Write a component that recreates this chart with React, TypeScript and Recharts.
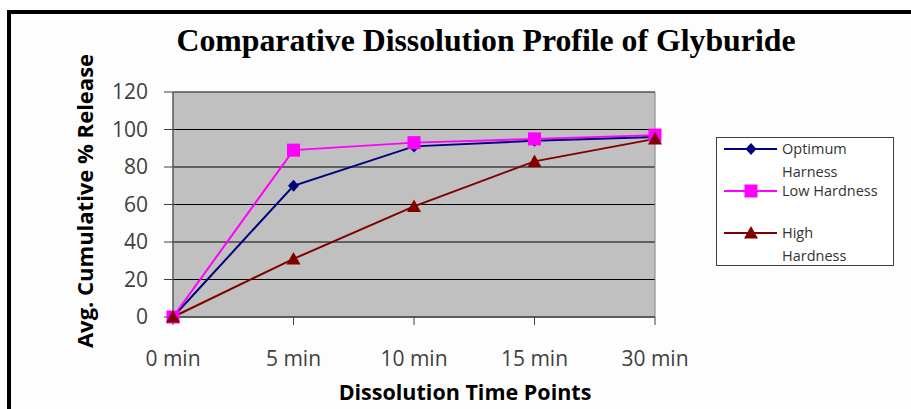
import { LineChart, Line, XAxis, YAxis, CartesianGrid, ReferenceArea } from 'recharts';

const timePoints = ['0 min', '5 min', '10 min', '15 min', '30 min'];
const optimumHarness = [0, 70, 91, 94, 96];
const lowHardness = [0, 89, 93, 95, 97];
const highHardness = [0, 31, 59, 83, 95];
const yTicks = [0, 20, 40, 60, 80, 100, 120];

const data = timePoints.map((t, i) => ({
  time: t,
  optimum: optimumHarness[i],
  low: lowHardness[i],
  high: highHardness[i],
}));

const FONT = '"Open Sans", sans-serif';

type Marker = 'diamond' | 'square' | 'triangle';

function drawMarker(kind: Marker, cx: number, cy: number, color: string, key?: string | number) {
  if (kind === 'diamond') {
    return <path key={key} d={`M${cx},${cy - 6}L${cx + 5.5},${cy}L${cx},${cy + 6}L${cx - 5.5},${cy}Z`} fill={color} />;
  }
  if (kind === 'square') {
    return <rect key={key} x={cx - 6.5} y={cy - 6.5} width={13} height={13} fill={color} />;
  }
  return <path key={key} d={`M${cx},${cy - 7}L${cx + 7},${cy + 5.5}L${cx - 7},${cy + 5.5}Z`} fill={color} />;
}

const series = [
  { key: 'optimum', label: ['Optimum', 'Harness'], color: '#000080', marker: 'diamond' as Marker },
  { key: 'low', label: ['Low Hardness'], color: '#ff00ff', marker: 'square' as Marker },
  { key: 'high', label: ['High', 'Hardness'], color: '#800000', marker: 'triangle' as Marker },
];

// legend row positions inside the box
const legendRows = [12, 54, 96];

function LegendBox() {
  return (
    <svg style={{ position: 'absolute', left: 716, top: 137 }} width={179} height={130}>
      <rect x={0.5} y={0.5} width={177} height={128} fill="#fff" stroke="#404040" />
      {series.map((s, i) => {
        const y = legendRows[i];
        return (
          <g key={s.key}>
            <line x1={8} x2={61} y1={y} y2={y} stroke={s.color} strokeWidth={2} />
            {drawMarker(s.marker, 35, y, s.color)}
            {s.label.map((l, j) => (
              <text
                key={l}
                x={66}
                y={y + j * 23}
                dy="0.35em"
                fontFamily={FONT}
                fontSize={14.5}
                fill="#333"
              >
                {l}
              </text>
            ))}
          </g>
        );
      })}
    </svg>
  );
}

export default function App() {
  return (
    <div
      style={{
        position: 'fixed',
        left: 0,
        top: 0,
        width: 911,
        height: 409,
        overflow: 'hidden',
        background: '#fff',
      }}
    >
      <div
        style={{
          position: 'absolute',
          left: 7,
          top: 10,
          width: 1000,
          height: 500,
          border: '4px solid #000',
          background: '#fdfdfd',
        }}
      />
      <LineChart
        width={911}
        height={409}
        data={data}
        margin={{ top: 92, right: 256, bottom: 52, left: 113 }}
        style={{ position: 'absolute', left: 0, top: 0 }}
      >
        <CartesianGrid vertical={false} stroke="#000" fill="#c0c0c0" fillOpacity={1} />
        <ReferenceArea x1="0 min" x2="30 min" y1={0} y2={120} fill="none" stroke="#808080" />
        <XAxis
          dataKey="time"
          height={40}
          stroke="#404040"
          tickSize={8}
          tickMargin={26}
          tick={{ fontFamily: FONT, fontSize: 21, fill: '#404040' }}
          tickLine={{ stroke: '#404040' }}
        />
        <YAxis
          width={60}
          domain={[0, 120]}
          ticks={yTicks}
          stroke="#404040"
          tickSize={9}
          tickMargin={16}
          tick={{ fontFamily: FONT, fontSize: 21, fill: '#404040' }}
        />
        {series.map((s) => (
          <Line
            key={s.key}
            dataKey={s.key}
            stroke={s.color}
            strokeWidth={2}
            isAnimationActive={false}
            dot={(p: any) => drawMarker(s.marker, p.cx, p.cy, s.color, `${s.key}-${p.index}`)}
            activeDot={false}
          />
        ))}
      </LineChart>
      <svg style={{ position: 'absolute', left: 0, top: 0 }} width={911} height={409}>
        <text
          x={486}
          y={51}
          textAnchor="middle"
          fontFamily='"Liberation Serif", serif'
          fontWeight="bold"
          fontSize={31}
          textLength={619}
          lengthAdjust="spacingAndGlyphs"
          fill="#000"
        >
          Comparative Dissolution Profile of Glyburide
        </text>
        <text
          x={465}
          y={400}
          textAnchor="middle"
          fontFamily={FONT}
          fontWeight="bold"
          fontSize={21.5}
          fill="#000"
        >
          Dissolution Time Points
        </text>
        <text
          transform="translate(93,201) rotate(-90)"
          textAnchor="middle"
          fontFamily={FONT}
          fontWeight="bold"
          fontSize={22}
          fill="#000"
        >
          Avg. Cumulative % Release
        </text>
      </svg>
      <LegendBox />
    </div>
  );
}
